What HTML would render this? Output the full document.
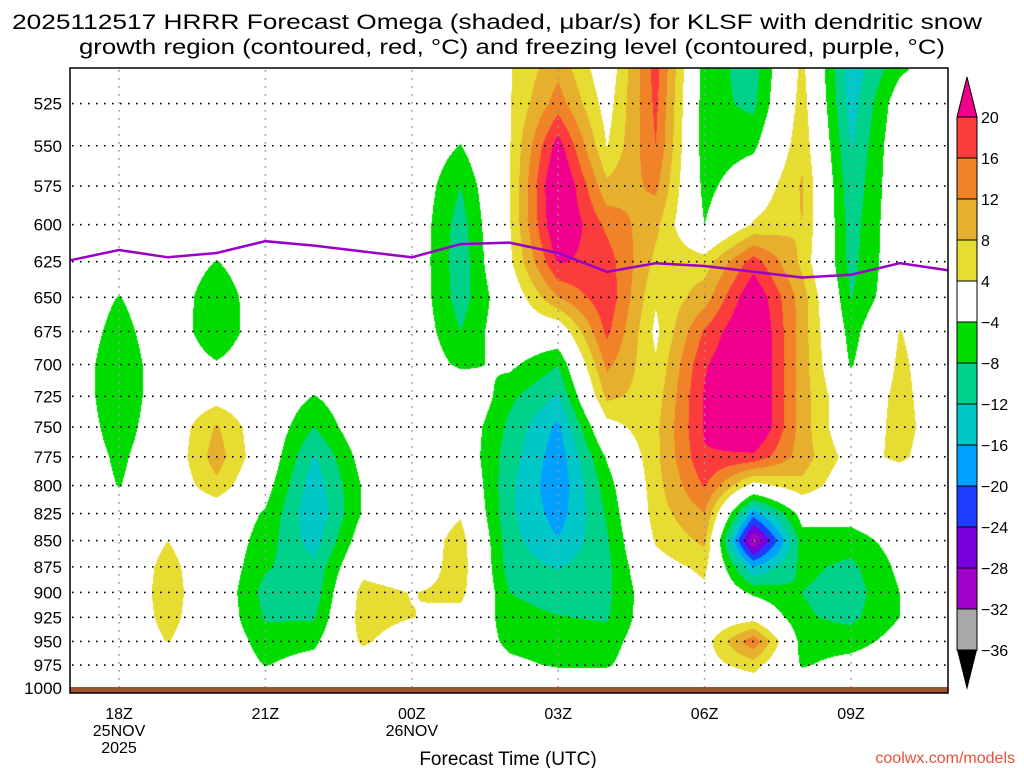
<!DOCTYPE html>
<html><head><meta charset="utf-8"><title>HRRR Omega KLSF</title>
<style>
html,body{margin:0;padding:0;background:#fff;}
#wrap{position:relative;width:1024px;height:768px;overflow:hidden;font-family:"Liberation Sans",sans-serif;}
#field{position:absolute;left:70px;top:68px;}
#ov{position:absolute;left:0;top:0;}
</style></head>
<body>
<div id="wrap">
<canvas id="field" width="878" height="625"></canvas>
<svg id="ov" width="1024" height="768" xmlns="http://www.w3.org/2000/svg">
 <g id="grid"></g>
 <rect x="70" y="687" width="878" height="6" fill="#a0522d"/>
 <path id="fz" fill="none" stroke="#9a00c8" stroke-width="2.5"/>
 <rect x="70" y="68" width="878" height="625" fill="none" stroke="#000" stroke-width="1.5"/>
 <g id="yt" font-size="17" text-anchor="end" fill="#000"></g>
 <g id="xt" font-size="16" text-anchor="middle" fill="#000"></g>
 <g id="cb"></g>
 <text x="497" y="29" font-size="21" text-anchor="middle" textLength="970" lengthAdjust="spacingAndGlyphs">2025112517 HRRR Forecast Omega (shaded, μbar/s) for KLSF with dendritic snow</text>
 <text x="512" y="54" font-size="21" text-anchor="middle" textLength="866" lengthAdjust="spacingAndGlyphs">growth region (contoured, red, °C) and freezing level (contoured, purple, °C)</text>
 <text x="508" y="765" font-size="19" text-anchor="middle">Forecast Time (UTC)</text>
 <text x="1015" y="763" font-size="16" text-anchor="end" fill="#e8503c">coolwx.com/models</text>
</svg>
</div>
<script>
const hours = [17,18,19,20,21,22,23,24,25,26,27,28,29,30,31,32,33,34,35];
const levels = [500,525,550,575,600,625,650,675,700,725,750,775,800,825,850,875,900,925,950,975,1000];
const pressureTicks = [525,550,575,600,625,650,675,700,725,750,775,800,825,850,875,900,925,950,975,1000];
const timeTickHours = [18,21,24,27,30,33];
const timeTickLabels = [["18Z","25NOV","2025"],["21Z"],["00Z","26NOV"],["03Z"],["06Z"],["09Z"]];
const omegaByHour = [
 [0,0,0,0,0,0,0,0,0,0,0,0,0,0,0,0,0,0,0,0,0],
 [0,0,0,0,0,0,-4.2,-6,-7.8,-7.8,-6.5,-5,-4.2,0,0,0,0,0,0,0,0],
 [0,0,0,0,0,0,0,0,0,0,0,0,0,0,4,5.5,6,5.5,4.2,0,0],
 [0,0,0,0,0,-4.2,-7.5,-7.8,-3.5,2,8.5,10,7,0,0,0,0,0,0,0,0],
 [0,0,0,0,0,0,0,0,0,0,0,0,-2,-4.5,-6,-7.5,-9.5,-8.5,-6,-4.2,0],
 [0,0,0,0,0,0,0,0,0,-4.2,-8,-12.5,-14.5,-15.5,-14,-11,-10.5,-8.5,-5,-2,0],
 [0,0,0,0,0,0,0,0,0,0,0,-2,-3.5,-3.5,-1,2,6,6.5,5,0,0],
 [0,0,0,0,0,0,0,0,0,0,0,0,0,0,0,0,3.8,4.2,0,0,0],
 [0,0,-4.2,-8,-10,-10.5,-10,-8,-5,2,0,0,2,3.5,6,6.5,5.5,2,0,0,0],
 [3.6,3.6,3.6,3.6,3.6,3,0,0,-3,-7,-9,-10,-11,-11,-10.5,-10,-8,-6.5,-5,-3,0],
 [10,14,22,26,25,20.5,12,0,-7.8,-12.5,-17,-18.5,-19,-18,-15.8,-12.3,-10,-7.8,-6,-4.5,0],
 [0,2,3.8,9,15,18,19,17,13,9,2,-3.5,-6,-7.5,-8.5,-9,-9,-8.5,-6,-4.5,0],
 [18,17,16,13,9,7,4.5,3,4.5,6,7,7,6.5,6,4.5,2,0,0,0,0,0],
 [-6,-6.5,-6.5,-5.5,-4,6,10,16.5,19.5,20.5,20.5,19.5,16.5,12,9,5,3,0,2,2,0],
 [-10,-9,-5,0,4.5,18,24,26,26,26,26,19,2,-18,-33,-16,-5,2,15,6,0],
 [5,6,7,8.5,8,7,10,10,10,10,10,10,7,-2,-6,-7,-8,-7.5,-6,-4.5,0],
 [-15,-14,-12.3,-11,-10,-9.5,-8.2,-6,-4.5,-1,-1,2,0,-2,-6,-9,-10,-9,-6,-2,0],
 [-6,-1,0,0,0,0,0,4.2,5,5.5,6,5,0,0,-2,-3,-4,-4,-2,0,0],
 [0,0,0,0,0,0,0,0,0,0,0,0,0,0,0,0,0,0,0,0,0]
];
const fzHours = [17,18,19,20,21,22,23,24,25,26,27,28,29,30,31,32,33,34,35];
const fzPres = [624,617,622,619,611,614,618,622,613,612,619,632,626,628,632,636,634,626,631];
const cbValues = [20,16,12,8,4,-4,-8,-12,-16,-20,-24,-28,-32,-36];
const cbColors = ["#fa3c3c","#f08228","#e6af2d","#e6dc32","#ffffff","#00dc00","#00d28c","#00c8c8","#00a0ff","#1e3cff","#7800dc","#a000c8","#a8a8a8"];

const NS="http://www.w3.org/2000/svg";
function xOf(h){return 119+(h-18)*48.8;}
function yOf(p){return 688-907*Math.log(1000/p);}
function colorOf(v){
 if(v>=20) return [240,0,140];
 if(v>=16) return [250,60,60];
 if(v>=12) return [240,130,40];
 if(v>=8) return [230,175,45];
 if(v>=4) return [230,220,50];
 if(v>-4) return [255,255,255];
 if(v>-8) return [0,220,0];
 if(v>-12) return [0,210,140];
 if(v>-16) return [0,200,200];
 if(v>-20) return [0,160,255];
 if(v>-24) return [30,60,255];
 if(v>-28) return [120,0,220];
 if(v>-32) return [160,0,200];
 if(v>-36) return [168,168,168];
 return [0,0,0];
}
(function(){
 const cv=document.getElementById('field');const ctx=cv.getContext('2d');
 const W=cv.width,H=cv.height;const img=ctx.createImageData(W,H);
 const nh=hours.length,nl=levels.length;
 for(let py=0;py<H;py++){
  const Y=68+py+0.5;
  let p=1000*Math.exp(-(688-Y)/907);
  let fj=(p-levels[0])/(levels[1]-levels[0]);
  if(fj<0)fj=0; if(fj>nl-1)fj=nl-1;
  let j=Math.min(Math.floor(fj),nl-2),u=fj-j;
  for(let px=0;px<W;px++){
   const X=70+px+0.5;
   let fi=(18+(X-119)/48.8)-hours[0];
   if(fi<0)fi=0; if(fi>nh-1)fi=nh-1;
   let i=Math.min(Math.floor(fi),nh-2),t=fi-i;
   const a=omegaByHour[i][j],b=omegaByHour[i+1][j],c=omegaByHour[i][j+1],d=omegaByHour[i+1][j+1];
   const v=(a*(1-t)+b*t)*(1-u)+(c*(1-t)+d*t)*u;
   const col=colorOf(v);const k=(py*W+px)*4;
   img.data[k]=col[0];img.data[k+1]=col[1];img.data[k+2]=col[2];img.data[k+3]=255;
  }
 }
 ctx.putImageData(img,0,0);
})();
(function(){
 const g=document.getElementById('grid'),yt=document.getElementById('yt'),xt=document.getElementById('xt');
 pressureTicks.forEach(function(p){
  const y=yOf(p);
  const l=document.createElementNS(NS,'line');
  l.setAttribute('x1',72);l.setAttribute('x2',946);l.setAttribute('y1',y);l.setAttribute('y2',y);
  l.setAttribute('stroke','#000');l.setAttribute('stroke-width','1.6');l.setAttribute('stroke-dasharray','1.6 6.4');
  
  
  g.appendChild(l);
  const t=document.createElementNS(NS,'text');
  t.setAttribute('x',62);t.setAttribute('y',y+6);t.textContent=p;
  
  
  yt.appendChild(t);
 });
 timeTickHours.forEach(function(h,idx){
  const x=xOf(h);
  const l=document.createElementNS(NS,'line');
  l.setAttribute('x1',x);l.setAttribute('x2',x);l.setAttribute('y1',70);l.setAttribute('y2',692);
  l.setAttribute('stroke','#999');l.setAttribute('stroke-width','1.6');l.setAttribute('stroke-dasharray','1.6 6.4');
  
  
  g.appendChild(l);
  timeTickLabels[idx].forEach(function(s,r){
   const t=document.createElementNS(NS,'text');
   t.setAttribute('x',x);t.setAttribute('y',719+r*17);t.textContent=s;
   
   
   xt.appendChild(t);
  });
 });
 let d='';
 fzHours.forEach(function(h,i){d+=(i?'L':'M')+xOf(h).toFixed(1)+' '+yOf(fzPres[i]).toFixed(1);});
 document.getElementById('fz').setAttribute('d',d);
 const cb=document.getElementById('cb');
 const top=117,bh=41,x0=957,w=20;
 const tri1=document.createElementNS(NS,'polygon');
 tri1.setAttribute('points',x0+','+top+' '+(x0+w)+','+top+' '+(x0+w/2)+','+(top-40));
 tri1.setAttribute('fill','#f0008c');tri1.setAttribute('stroke','#000');
 
 
 cb.appendChild(tri1);
 cbColors.forEach(function(c,i){
  const r=document.createElementNS(NS,'rect');
  r.setAttribute('x',x0);r.setAttribute('y',top+i*bh);r.setAttribute('width',w);r.setAttribute('height',bh);
  r.setAttribute('fill',c);r.setAttribute('stroke','#000');r.setAttribute('stroke-width','1');
  
  
  cb.appendChild(r);
 });
 const yb=top+cbColors.length*bh;
 const tri2=document.createElementNS(NS,'polygon');
 tri2.setAttribute('points',x0+','+yb+' '+(x0+w)+','+yb+' '+(x0+w/2)+','+(yb+40));
 tri2.setAttribute('fill','#000');
 
 
 cb.appendChild(tri2);
 cbValues.forEach(function(v,i){
  const t=document.createElementNS(NS,'text');
  t.setAttribute('x',981);t.setAttribute('y',top+i*bh+6);t.setAttribute('font-size','16');
  t.textContent=(v<0?'\u2212'+(-v):String(v));
  
  
  cb.appendChild(t);
 });
})();
</script>
</body></html>
